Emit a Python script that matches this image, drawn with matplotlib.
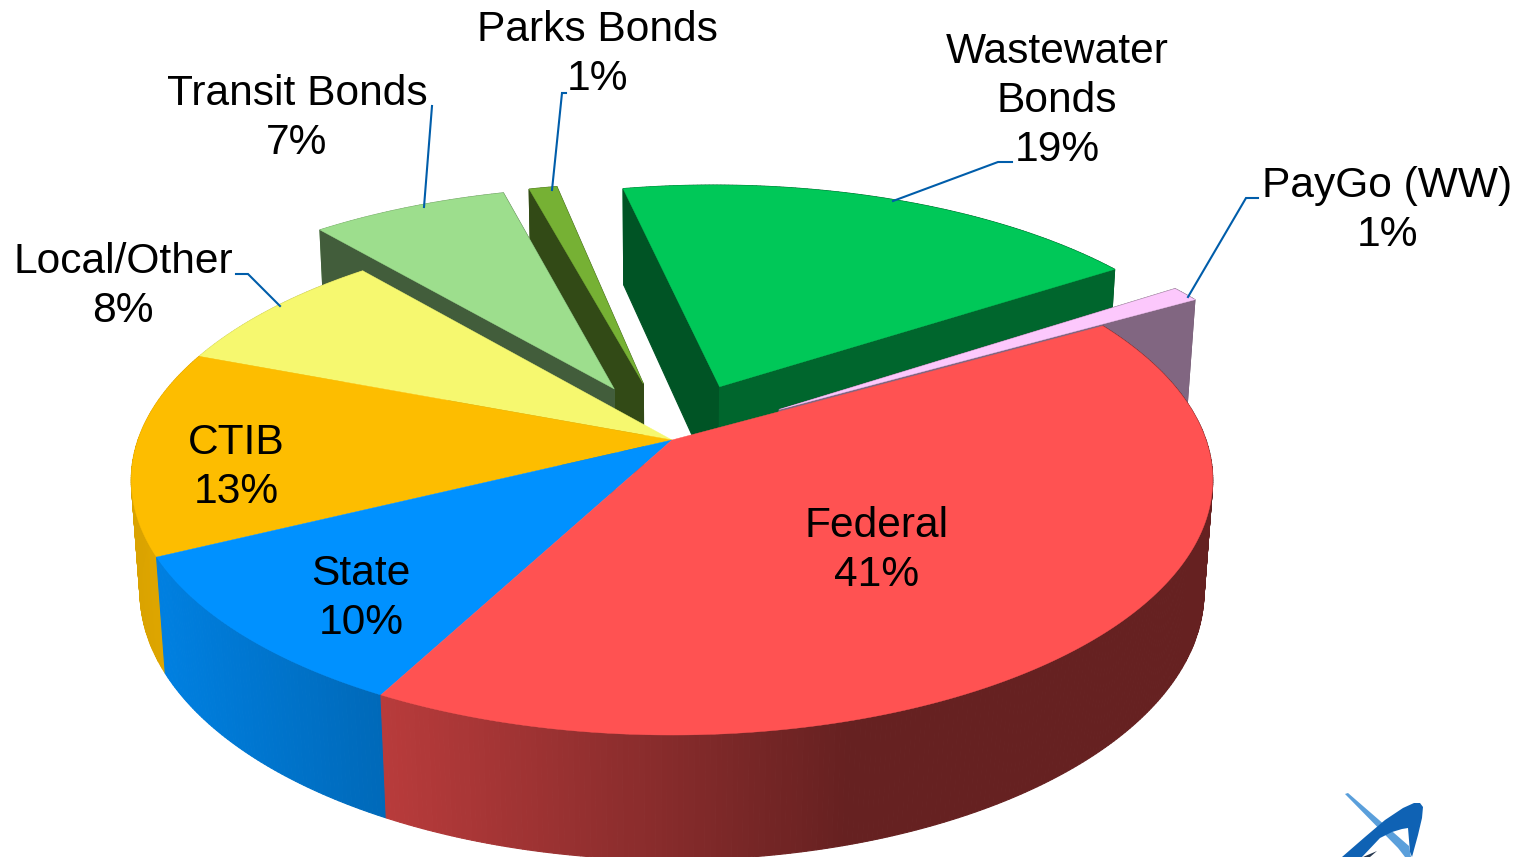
import numpy as np
import matplotlib
matplotlib.use("Agg")
import matplotlib.pyplot as plt
from matplotlib.patches import Polygon

plt.rcParams['font.family'] = ['Liberation Sans', 'DejaVu Sans']

# Funding shares, listed clockwise from the start angle
sources = ["Federal", "State", "CTIB", "Local/Other", "Transit Bonds", "Parks Bonds", "Wastewater\nBonds", "PayGo (WW)"]
shares = [41, 10, 13, 8, 7, 1, 19, 1]
top_colors = ["#FF5252", "#0091FF", "#FDBD00", "#F6F86F", "#9DDE8D", "#76B134", "#00C858", "#FCC8FC"]
pulled_out = [False, False, False, False, True, True, True, True]
label_centers = [(877, 550.5), (361, 598.5), (236, 467.5), (123, 286.5), (297, 118.5), (597, 54.5), (1057, 101), (1387, 210.5)]

# Wedge painting order: farthest pieces first
paint_order = [5, 4, 6, 7, 3, 2, 1, 0]

# Leader lines as (x, y) vertices from the slice to its label
leaders = {
    3: [(280, 306), (248, 274), (236, 274)],
    4: [(424, 207), (432, 106)],
    5: [(552, 190), (562, 93), (566, 93)],
    6: [(893, 201), (998, 162), (1012, 162)],
    7: [(1188, 297), (1246, 198), (1258, 198)],
}
LEADER_COLOR = "#005DAA"

# Camera model for the tilted disc
CX, CY = 672.0, 440.0
RX, RY = 534.0, 248.7
PERSP_Y, PERSP_Z = 0.157, 0.016
DEPTH = 112.0
START_DEG = 29.6
EXPLODE = 0.24

LIGHT_X = [130, 160, 400, 850, 1213]
LIGHT_F = [0.86, 0.88, 0.71, 0.40, 0.40]
LEFT_WALL, RIGHT_WALL = 0.42, 0.51


def project(x, y, z):
    w = 1 + PERSP_Y * y + PERSP_Z * z
    return CX + RX * x / w, CY - (RY * y - DEPTH * z) / w


def shade(color, factor):
    rgb = np.array(matplotlib.colors.to_rgb(color))
    return tuple(rgb * factor)


def quad(ax, pts, color):
    ax.add_patch(Polygon(pts, closed=True, facecolor=color, edgecolor=color, lw=0.8))


def draw_wedge(ax, a0, a1, color, offset):
    # a0 > a1: the wedge runs clockwise in degrees
    ox, oy = offset
    n = max(4, int((a0 - a1) * 2))
    t = np.radians(np.linspace(a0, a1, n + 1))
    xs, ys = ox + np.cos(t), oy + np.sin(t)

    # Rim, lit according to its horizontal position
    for i in range(n):
        pts = [project(xs[i], ys[i], 0), project(xs[i + 1], ys[i + 1], 0),
               project(xs[i + 1], ys[i + 1], 1), project(xs[i], ys[i], 1)]
        mid_x = 0.5 * (pts[0][0] + pts[1][0])
        quad(ax, pts, shade(color, np.interp(mid_x, LIGHT_X, LIGHT_F)))

    # Radial walls, the one reaching farther back first; only pulled-out pieces show them
    if offset != (0.0, 0.0):
        walls = [(xs[0], ys[0], LEFT_WALL), (xs[-1], ys[-1], RIGHT_WALL)]
        for ex, ey, f in sorted(walls, key=lambda wall: -wall[1]):
            pts = [project(ox, oy, 0), project(ex, ey, 0), project(ex, ey, 1), project(ox, oy, 1)]
            quad(ax, pts, shade(color, f))

    # Top face
    outline = [project(ox, oy, 0)] + [project(a, b, 0) for a, b in zip(xs, ys)]
    ax.add_patch(Polygon(outline, closed=True, facecolor=color, edgecolor=color, lw=0.3))


fig = plt.figure(figsize=(15.29, 8.57), dpi=100, facecolor="white")
ax = fig.add_axes([0, 0, 1, 1])
ax.set_xlim(0, 1529)
ax.set_ylim(857, 0)
ax.axis("off")

for verts in leaders.values():
    vx, vy = zip(*verts)
    ax.plot(vx, vy, color=LEADER_COLOR, lw=1.5, solid_joinstyle="miter")

sweeps = 360.0 * np.array(shares) / np.sum(shares)
ends = START_DEG - np.cumsum(sweeps)
starts = ends + sweeps

for idx in paint_order:
    offset = (0.0, 0.0)
    if pulled_out[idx]:
        mid = np.radians(0.5 * (starts[idx] + ends[idx]))
        offset = (EXPLODE * np.cos(mid), EXPLODE * np.sin(mid))
    draw_wedge(ax, starts[idx], ends[idx], top_colors[idx], offset)

for name, share, (lx, ly) in zip(sources, shares, label_centers):
    ax.text(lx, ly, f"{name}\n{share}%", ha="center", va="center", fontsize=30.6,
            color="black", linespacing=1.28)

# Agency emblem in the lower right corner
ax.add_patch(Polygon([(1345, 794), (1348, 793), (1409, 846), (1411, 857), (1405, 857), (1398, 848)], closed=True,
                     facecolor="#5A9FDB", edgecolor="none"))
ax.add_patch(Polygon([(1342, 857), (1365, 837), (1385, 820), (1403, 808), (1414, 803), (1420, 803),
                      (1423, 807), (1422, 818), (1418, 835), (1412, 857), (1410, 852),
                      (1408, 828), (1402, 829), (1392, 832), (1380, 838), (1362, 857)], closed=True,
                     facecolor="#0F62B4", edgecolor="none"))
ax.add_patch(Polygon([(1363, 857), (1377, 851), (1370, 857)], closed=True,
                     facecolor="#26384F", edgecolor="none"))

fig.savefig("out.png", dpi=100)
